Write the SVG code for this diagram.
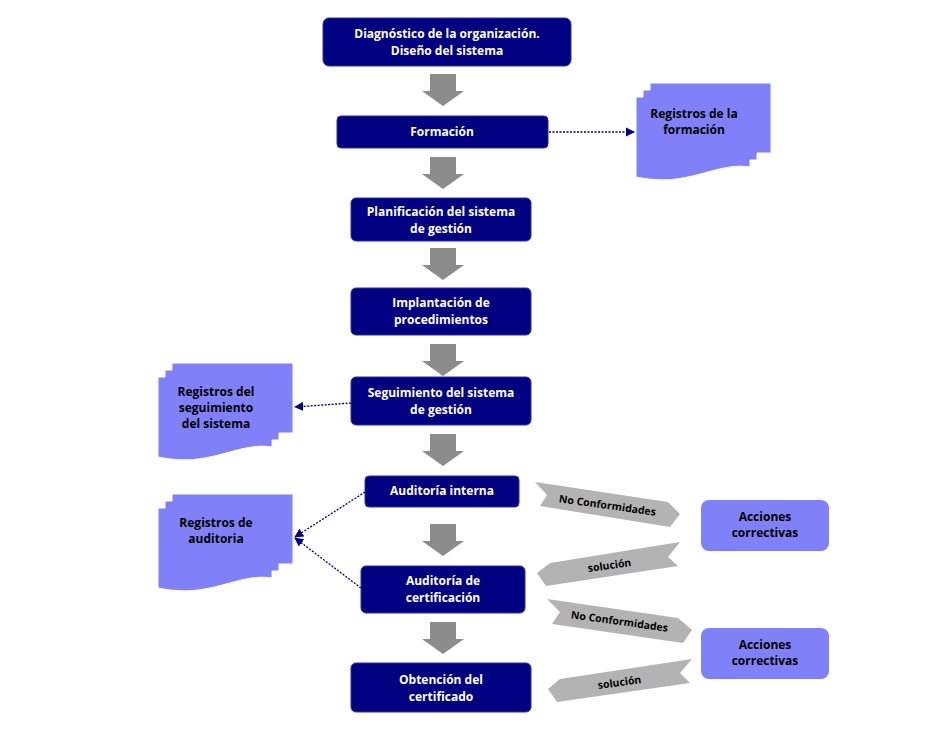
<svg xmlns="http://www.w3.org/2000/svg" width="947" height="743" viewBox="0 0 947 743">
<style>
.box{fill:#000080;stroke:#3030a0;stroke-width:1}
.bt{fill:#fff;font-family:"Open Sans","Liberation Sans",sans-serif;font-weight:bold;font-size:12px;text-anchor:middle}
.dt{fill:#000;font-family:"Open Sans","Liberation Sans",sans-serif;font-weight:bold;font-size:12px;text-anchor:middle}
.rt{fill:#000;font-family:"Open Sans","Liberation Sans",sans-serif;font-weight:bold;font-size:10.5px;text-anchor:middle}
.doc{fill:#8080f8;stroke:#fff;stroke-width:1}
.ac{fill:#8080f8}
.ga{fill:#8c8c8c}
.rib{fill:#b3b3b3}
.con{stroke:#000080;stroke-width:1.3;stroke-dasharray:2 1.5;fill:none;marker-end:url(#ah)}
</style>
<defs>
<marker id="ah" viewBox="0 0 10 10" refX="9" refY="5" markerWidth="7" markerHeight="7" orient="auto-start-reverse"><path d="M0,0L10,5L0,10z" fill="#000080"/></marker>
<path id="ga" d="M-13,0H13V17H21L0,32L-21,17H-13z"/>
<path id="md" d="M14,0H135V70H121V77H114V84C90,80 70,92 40,96 C25,98 10,96 0,94V14H7V7H14z"/>
<path id="rib" d="M0,0L140,22L146,40L132,52L-8,30L6,16z"/>
</defs>
<g id="gray-arrows">
<use href="#ga" x="443" y="74" class="ga"/>
<use href="#ga" x="443" y="157" class="ga"/>
<use href="#ga" x="443" y="248" class="ga"/>
<use href="#ga" x="443" y="344" class="ga"/>
<use href="#ga" x="443" y="434" class="ga"/>
<use href="#ga" x="443" y="524" class="ga"/>
<use href="#ga" x="443" y="622" class="ga"/>
</g>
<g id="connectors">
<path class="con" d="M549,132H634"/>
<path class="con" d="M351,403L295,407"/>
<path class="con" d="M365,492L295,537"/>
<path class="con" d="M361,588L295,538"/>
</g>
<g id="n1"><rect class="box" x="323" y="18" width="248" height="48" rx="6"/><text class="bt" x="447" y="38">Diagnóstico de la organización.</text><text class="bt" x="447" y="55">Diseño del sistema</text></g>
<g id="n2"><rect class="box" x="337" y="116" width="211" height="32" rx="4"/><text class="bt" x="442" y="136">Formación</text></g>
<g id="n3"><rect class="box" x="351" y="198" width="180" height="43" rx="5"/><text class="bt" x="441" y="216">Planificación del sistema</text><text class="bt" x="441" y="233">de gestión</text></g>
<g id="n4"><rect class="box" x="351" y="288" width="180" height="47" rx="5"/><text class="bt" x="441" y="307">Implantación de</text><text class="bt" x="441" y="324">procedimientos</text></g>
<g id="n5"><rect class="box" x="351" y="377" width="180" height="48" rx="5"/><text class="bt" x="441" y="397">Seguimiento del sistema</text><text class="bt" x="441" y="414">de gestión</text></g>
<g id="n6"><rect class="box" x="365" y="476" width="154" height="31" rx="4"/><text class="bt" x="442" y="495">Auditoría interna</text></g>
<g id="n7"><rect class="box" x="361" y="566" width="164" height="47" rx="5"/><text class="bt" x="443" y="585">Auditoría de</text><text class="bt" x="443" y="602">certificación</text></g>
<g id="n8"><rect class="box" x="351" y="663" width="180" height="49" rx="5"/><text class="bt" x="441" y="684">Obtención del</text><text class="bt" x="441" y="701">certificado</text></g>
<g id="d1"><use href="#md" x="636" y="83" class="doc"/><text class="dt" x="694" y="118">Registros de la</text><text class="dt" x="694" y="134">formación</text></g>
<g id="d2"><use href="#md" x="158" y="363" class="doc"/><text class="dt" x="216" y="396">Registros del</text><text class="dt" x="216" y="412">seguimiento</text><text class="dt" x="216" y="428">del sistema</text></g>
<g id="d3"><use href="#md" x="158" y="494" class="doc"/><text class="dt" x="216" y="527">Registros de</text><text class="dt" x="216" y="543">auditoria</text></g>
<g id="a1"><rect class="ac" x="701" y="500" width="128" height="51" rx="8"/><text class="dt" x="765" y="521">Acciones</text><text class="dt" x="765" y="537">correctivas</text></g>
<g id="a2"><rect class="ac" x="701" y="628" width="128" height="51" rx="8"/><text class="dt" x="765" y="649">Acciones</text><text class="dt" x="765" y="665">correctivas</text></g>
<g id="ribbons">
<path class="rib" d="M535,482L668,502L680,514L670,527L540,506L547,495z"/>
<text class="rt" transform="translate(607,509) rotate(8)">No Conformidades</text>
<path class="rib" d="M680,542L668,557L678,566L546,586L537,573L550,563z"/>
<text class="rt" transform="translate(610,569) rotate(-8)">solución</text>
<path class="rib" d="M547,599L678,618L692,630L683,643L552,624L560,612z"/>
<text class="rt" transform="translate(619,625) rotate(8)">No Conformidades</text>
<path class="rib" d="M692,659L680,673L690,683L557,702L548,689L560,679z"/>
<text class="rt" transform="translate(620,686) rotate(-8)">solución</text>
</g>
</svg>
